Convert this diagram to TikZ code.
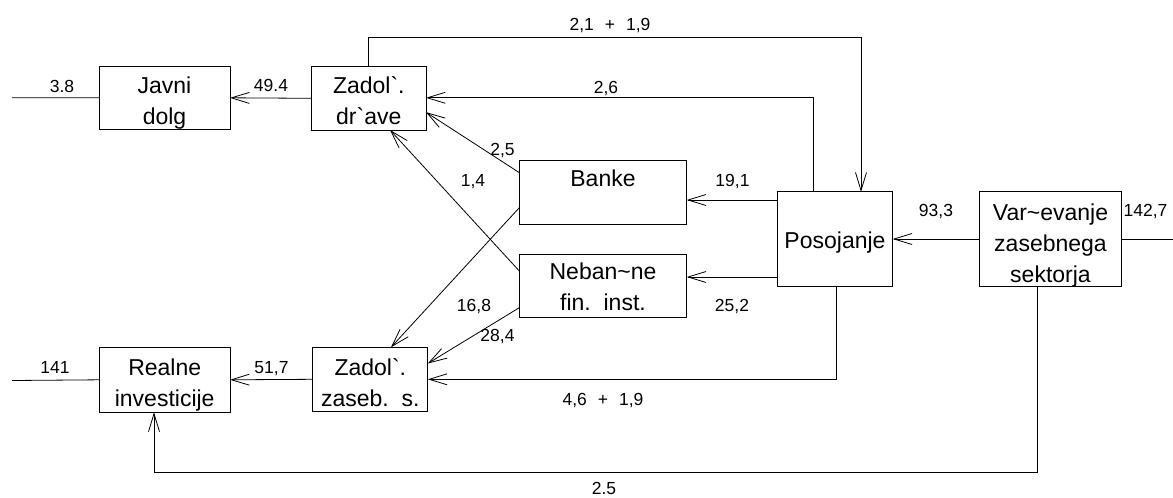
\documentclass[tikz,border=0pt]{standalone}
\usepackage{fontspec}
\setmainfont{Liberation Sans}[Ligatures=TeXOff]
\usetikzlibrary{arrows.meta}

\newcommand{\stack}[1]{\begin{tabular}[t]{@{}c@{}}#1\end{tabular}}

\tikzset{
  flowbox/.style={draw, line width=0.9pt, inner sep=0pt, outer sep=0pt},
  boxtext/.style={inner sep=0pt, anchor=base, font=\fontsize{23}{31}\selectfont},
  numlbl/.style={inner sep=0pt, anchor=base, font=\fontsize{17.5}{20}\selectfont},
  flow/.style={line width=0.8pt},
  arr/.style={flow, -{Straight Barb[length=18pt,width=11pt,line width=0.8pt]}}
}

\begin{document}
\begin{tikzpicture}[x=1pt,y=-1pt]
\useasboundingbox (0,0) rectangle (1173,498);

% boxes
\node[flowbox, minimum width=131pt, minimum height=62.5pt] (jd) at (164.5,97.8) {};
\node[flowbox, minimum width=114.3pt, minimum height=63.3pt] (zd) at (368.8,98.3) {};
\node[flowbox, minimum width=167.4pt, minimum height=63.3pt] (bk) at (603,192.3) {};
\node[flowbox, minimum width=167.4pt, minimum height=63.4pt] (nb) at (603,286) {};
\node[flowbox, minimum width=115.4pt, minimum height=94.3pt] (po) at (835,239) {};
\node[flowbox, minimum width=142.4pt, minimum height=94.3pt] (va) at (1050.5,239) {};
\node[flowbox, minimum width=130.7pt, minimum height=65pt] (ri) at (164.7,379.8) {};
\node[flowbox, minimum width=115pt, minimum height=64pt] (zs) at (370.3,379.3) {};

% box texts
\node[boxtext] (jdt) at (164.5,93.3) {\stack{Javni\\dolg}};
\node[boxtext] (zdt) at (368.8,93.3) {\stack{Zadol`.\\dr`ave}};
\node[boxtext] (bkt) at (603,186) {Banke};
\node[boxtext] (nbt) at (603,279.3) {\stack{Neban\textasciitilde ne\\fin.\ \ inst.}};
\node[boxtext] (pot) at (835,248.3) {Posojanje};
\node[boxtext] (vat) at (1050.5,220) {\stack{Var\textasciitilde evanje\\zasebnega\\sektorja}};
\node[boxtext] (rit) at (164.7,375) {\stack{Realne\\investicije}};
\node[boxtext] (zst) at (370.3,375) {\stack{Zadol`.\\zaseb.\ \ s.}};

% free ends
\coordinate (jdin) at (12,97.7);
\coordinate (riin) at (12,380.5);
\coordinate (vaout) at (1173,239);

% connectors
\draw[flow] (jdin) -- (jd.west);
\draw[arr] (zd.west) -- (jd.east);
\draw[flow] (riin) -- (ri.west);
\draw[arr] (zs.west) -- (ri.east);

\draw[arr] (zd.north) -- ++(0,-29.5) -| ([xshift=26pt]po.north);
\draw[arr] ([xshift=-22pt]po.north) |- ([yshift=0.5pt]zd.east);

\draw[arr] ([yshift=-12pt]bk.north west) -- ([yshift=-45.5pt]zd.north east);
\draw[arr] ([yshift=15pt]nb.west) -- ([xshift=21.2pt]zd.south);
\draw[arr] ([yshift=-15.4pt]bk.west) -- ([xshift=20.7pt]zs.north);
\draw[arr] ([yshift=-21.7pt]nb.west) -- ([yshift=15.8pt]zs.east);

\draw[arr] (po.west |- 0,200) -- (bk.east |- 0,200);
\draw[arr] (po.west |- 0,277) -- (nb.east |- 0,277);
\draw[arr] (va.west) -- (po.east);
\draw[flow] (va.east) -- (vaout);
\draw[arr] ([xshift=1pt]po.south) |- (zs.east);
\draw[arr] ([xshift=-13.2pt]va.south) -- ++(0,186.2) -| ([xshift=-10.7pt]ri.south);

% flow values
\node[numlbl] (l38) at (62,92) {3.8};
\node[numlbl] (l494) at (271,91) {49.4};
\node[numlbl] (l141) at (55,373.5) {141};
\node[numlbl] (l517) at (271.5,373.5) {51,7};
\node[numlbl] (ltop) at (610,30) {2,1\hspace{11pt}+\hspace{11pt}1,9};
\node[numlbl] (l26) at (606,93) {2,6};
\node[numlbl] (l25a) at (502.5,155) {2,5};
\node[numlbl] (l14) at (473,186) {1,4};
\node[numlbl] (l191) at (732.5,186) {19,1};
\node[numlbl] (l252) at (732,311) {25,2};
\node[numlbl] (l168) at (474,311) {16,8};
\node[numlbl] (l284) at (497.5,341) {28,4};
\node[numlbl] (l933) at (936,216.7) {93,3};
\node[numlbl] (l1427) at (1145.5,216.7) {142,7};
\node[numlbl] (lbot) at (603,405) {4,6\hspace{11pt}+\hspace{11pt}1,9};
\node[numlbl] (l25b) at (604,494) {2.5};
\end{tikzpicture}
\end{document}
